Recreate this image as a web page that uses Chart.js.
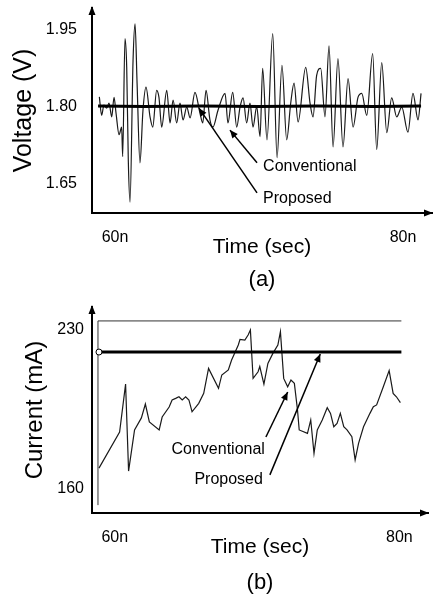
<!DOCTYPE html>
<html>
<head>
<meta charset="utf-8">
<script src="https://cdn.jsdelivr.net/npm/chart.js@4.4.1/dist/chart.umd.min.js"></script>
<style>
  html, body { margin: 0; padding: 0; background: #fff; }
  #wrap { position: relative; width: 433px; height: 596px; }
  canvas { position: absolute; left: 0; }
  #chartA { top: 0; }
  #chartB { top: 298px; }
</style>
</head>
<body>
<div id="wrap">
  <canvas id="chartA" width="433" height="298"></canvas>
  <canvas id="chartB" width="433" height="298"></canvas>
</div>
<script>
const FONT = '"Liberation Sans", Arial, Helvetica, sans-serif';

// time axis, ns
const timeTicks = [60, 80];
const timeTickLabels = ['60n', '80n'];

// (a) supply voltage
const voltTicks = [1.65, 1.80, 1.95];
const voltTickLabels = ['1.65', '1.80', '1.95'];
const convTimeA = [58.91, 59.07, 59.23, 59.42, 59.58, 59.77, 59.93, 60.07, 60.28, 60.46,
  60.53, 60.69, 60.81, 60.92, 61.04, 61.25, 61.39, 61.53, 61.73, 61.94,
  62.15, 62.43, 62.62, 62.89, 63.05, 63.24, 63.59, 63.82, 64.03, 64.28,
  64.51, 64.72, 64.98, 65.21, 65.55, 65.90, 66.09, 66.32, 66.59, 66.80,
  67.15, 67.64, 67.84, 68.17, 68.45, 68.68, 68.89, 69.14, 69.37, 69.58,
  69.84, 70.07, 70.25, 70.55, 70.95, 71.25, 71.59, 71.92, 72.20, 72.43,
  72.71, 73.24, 73.54, 73.75, 74.00, 74.28, 74.58, 74.86, 75.14, 75.48,
  75.83, 76.18, 76.53, 76.87, 77.13, 77.48, 77.89, 78.17, 78.52, 78.87,
  79.21, 79.56, 79.91, 80.34, 80.69, 81.04, 81.25];
const convVoltA = [1.819, 1.783, 1.803, 1.797, 1.807, 1.780, 1.818, 1.787, 1.745, 1.760,
  1.702, 1.933, 1.877, 1.696, 1.613, 1.890, 1.962, 1.846, 1.690, 1.793,
  1.838, 1.780, 1.760, 1.832, 1.818, 1.760, 1.832, 1.768, 1.813, 1.768,
  1.807, 1.774, 1.799, 1.778, 1.828, 1.787, 1.768, 1.832, 1.774, 1.760,
  1.793, 1.826, 1.768, 1.828, 1.760, 1.799, 1.817, 1.768, 1.807, 1.760,
  1.800, 1.741, 1.875, 1.735, 1.943, 1.700, 1.881, 1.735, 1.807, 1.846,
  1.770, 1.877, 1.807, 1.780, 1.861, 1.875, 1.780, 1.919, 1.721, 1.894,
  1.721, 1.855, 1.760, 1.818, 1.826, 1.783, 1.904, 1.716, 1.886, 1.749,
  1.817, 1.780, 1.799, 1.750, 1.826, 1.774, 1.826];
const propTimeA = [58.82, 62.0, 66.0, 70.0, 74.0, 78.0, 81.25];
const propVoltA = [1.801, 1.800, 1.801, 1.800, 1.801, 1.800, 1.801];

// (b) supply current
const currTicks = [160, 230];
const currTickLabels = ['160', '230'];
const convTimeB = [58.89, 60.34, 60.76, 60.97, 61.39, 61.87, 62.15, 62.43, 63.12, 63.33,
  63.82, 64.03, 64.28, 64.51, 64.74, 64.98, 65.21, 65.43, 65.90, 66.25,
  66.59, 67.29, 67.52, 67.98, 68.21, 68.68, 68.80, 69.14, 69.37, 69.53,
  69.72, 70.07, 70.19, 70.48, 70.76, 71.11, 71.46, 71.64, 71.87, 72.15,
  72.38, 72.62, 72.84, 72.96, 73.54, 73.77, 74.00, 74.23, 74.58, 74.93,
  75.16, 75.39, 75.62, 75.85, 76.09, 76.32, 76.66, 76.89, 77.13, 77.48,
  77.93, 78.17, 78.40, 78.87, 79.28, 79.56, 79.79, 80.07];
const convCurrB = [169.2, 185.1, 206.2, 167.9, 186.0, 191.3, 197.4, 189.5, 186.0, 191.7,
  196.1, 199.2, 199.9, 200.6, 199.2, 200.6, 199.2, 194.0, 197.7, 202.1,
  213.1, 204.3, 210.2, 212.4, 216.8, 223.4, 225.9, 225.6, 227.8, 230.0,
  208.7, 211.6, 213.9, 206.2, 215.3, 219.7, 223.4, 229.3, 208.7, 205.0,
  208.0, 206.5, 194.8, 186.0, 184.5, 190.4, 175.7, 186.0, 190.4, 195.8,
  193.3, 187.4, 188.9, 193.3, 187.4, 186.0, 183.0, 172.8, 180.1, 187.4,
  193.3, 196.2, 197.0, 205.0, 212.1, 202.1, 200.6, 198.0];
const propTimeB = [58.89, 80.14];
const propCurrB = [220.3, 220.3];
// scope frame left and top edge in (b)
const frameTimeB = [58.82, 58.82, 80.14];
const frameCurrB = [152.9, 234.0, 234.0];

function toPoints(xs, ys) {
  return xs.map((x, i) => ({ x: x, y: ys[i] }));
}

function arrowHead(ctx, x0, y0, x1, y1, len, half) {
  const a = Math.atan2(y1 - y0, x1 - x0);
  ctx.beginPath();
  ctx.moveTo(x1, y1);
  ctx.lineTo(x1 - len * Math.cos(a) + half * Math.sin(a), y1 - len * Math.sin(a) - half * Math.cos(a));
  ctx.lineTo(x1 - len * Math.cos(a) - half * Math.sin(a), y1 - len * Math.sin(a) + half * Math.cos(a));
  ctx.closePath();
  ctx.fill();
}

// no extra room for half tick labels, the chart area is set by layout.padding
function noLabelPadding(s) {
  s.paddingTop = 0;
  s.paddingBottom = 0;
  s.paddingLeft = 0;
  s.paddingRight = 0;
}

// axis arrowheads + the "Conventional"/"Proposed" callouts
const calloutPlugin = {
  id: 'callouts',
  afterDraw(chart, args, opts) {
    const { ctx, chartArea: ca, scales: { x, y } } = chart;
    ctx.save();
    ctx.fillStyle = '#000';
    ctx.strokeStyle = '#000';
    arrowHead(ctx, ca.left, ca.top + 10, ca.left, ca.top - 2, 9, 3.5);
    arrowHead(ctx, ca.right - 10, ca.bottom, ca.right + 1, ca.bottom, 9, 3.5);

    ctx.font = '16px ' + FONT;
    ctx.textBaseline = 'middle';
    (opts.items || []).forEach(n => {
      ctx.textAlign = n.align;
      ctx.fillText(n.text, x.getPixelForValue(n.at[0]), y.getPixelForValue(n.at[1]));
      const x0 = x.getPixelForValue(n.from[0]), y0 = y.getPixelForValue(n.from[1]);
      const x1 = x.getPixelForValue(n.to[0]), y1 = y.getPixelForValue(n.to[1]);
      ctx.lineWidth = 1.5;
      ctx.beginPath();
      ctx.moveTo(x0, y0);
      ctx.lineTo(x1, y1);
      ctx.stroke();
      arrowHead(ctx, x0, y0, x1, y1, 8, 3.5);
    });
    ctx.restore();
  }
};

function timeAxis(height, titlePad) {
  return {
    type: 'linear',
    min: 58.40,
    max: 82.01,
    afterBuildTicks: s => { s.ticks = timeTicks.map(v => ({ value: v })); },
    afterFit: s => { s.height = height; noLabelPadding(s); },
    grid: { display: false, drawTicks: false },
    border: { display: true, color: '#000', width: 2 },
    ticks: {
      padding: 15,
      maxRotation: 0,
      autoSkip: false,
      color: '#000',
      font: { family: FONT, size: 16 },
      callback: v => timeTickLabels[timeTicks.indexOf(v)]
    },
    title: {
      display: true,
      text: 'Time (sec)',
      color: '#000',
      font: { family: FONT, size: 21 },
      padding: { top: 0, bottom: titlePad }
    }
  };
}

function valueAxis(min, max, ticks, labels, tickPad, title, titleSize, titlePad) {
  return {
    type: 'linear',
    min: min,
    max: max,
    afterBuildTicks: s => { s.ticks = ticks.map(v => ({ value: v })); },
    afterFit: s => { s.width = 92; noLabelPadding(s); },
    grid: { display: false, drawTicks: false },
    border: { display: true, color: '#000', width: 2 },
    ticks: {
      padding: tickPad,
      color: '#000',
      font: { family: FONT, size: 16 },
      callback: v => labels[ticks.indexOf(v)]
    },
    title: {
      display: true,
      text: title,
      color: '#000',
      font: { family: FONT, size: titleSize },
      padding: { top: titlePad, bottom: 0 }
    }
  };
}

function panelTitle(text, padBottom) {
  return {
    display: true,
    text: text,
    position: 'bottom',
    fullSize: false,
    color: '#000',
    font: { family: FONT, size: 22, weight: 'normal' },
    padding: { top: 0, bottom: padBottom }
  };
}

new Chart(document.getElementById('chartA'), {
  type: 'line',
  data: {
    datasets: [{
      label: 'Proposed',
      data: toPoints(propTimeA, propVoltA),
      borderColor: '#000',
      borderWidth: 3,
      pointRadius: 0,
      tension: 0
    }, {
      label: 'Conventional',
      data: toPoints(convTimeA, convVoltA),
      borderColor: '#1a1a1a',
      borderWidth: 1.2,
      pointRadius: 0,
      cubicInterpolationMode: 'monotone'
    }]
  },
  options: {
    responsive: false,
    animation: false,
    layout: { padding: { top: 8, right: 1, bottom: 0, left: 0 } },
    scales: {
      x: timeAxis(53.6, 7),
      y: valueAxis(1.5917, 1.9931, voltTicks, voltTickLabels, 15, 'Voltage (V)', 25, 9)
    },
    plugins: {
      legend: { display: false },
      tooltip: { enabled: false },
      title: panelTitle('(a)', 5),
      callouts: {
        items: [
          { text: 'Conventional', at: [70.28, 1.682], align: 'left', from: [69.86, 1.690], to: [67.98, 1.754] },
          { text: 'Proposed', at: [70.28, 1.619], align: 'left', from: [69.86, 1.631], to: [65.83, 1.797] }
        ]
      }
    }
  },
  plugins: [calloutPlugin]
});

new Chart(document.getElementById('chartB'), {
  type: 'line',
  data: {
    datasets: [{
      label: 'Proposed',
      data: toPoints(propTimeB, propCurrB),
      borderColor: '#000',
      borderWidth: 3,
      pointRadius: c => c.dataIndex === 0 ? 3 : 0,
      pointBackgroundColor: '#fff',
      pointBorderColor: '#000',
      pointBorderWidth: 1,
      tension: 0
    }, {
      label: 'Conventional',
      data: toPoints(convTimeB, convCurrB),
      borderColor: '#1a1a1a',
      borderWidth: 1.2,
      pointRadius: 0,
      tension: 0
    }, {
      label: 'frame',
      data: toPoints(frameTimeB, frameCurrB),
      borderColor: '#333',
      borderWidth: 1,
      pointRadius: 0,
      tension: 0
    }]
  },
  options: {
    responsive: false,
    animation: false,
    layout: { padding: { top: 9, right: 1, bottom: 0, left: 0 } },
    scales: {
      x: timeAxis(56.6, 10),
      y: valueAxis(149.43, 240.13, currTicks, currTickLabels, 8, 'Current (mA)', 24, 20.6)
    },
    plugins: {
      legend: { display: false },
      tooltip: { enabled: false },
      title: panelTitle('(b)', 0),
      callouts: {
        items: [
          { text: 'Conventional', at: [70.55, 177.2], align: 'right', from: [70.62, 182.9], to: [72.15, 202.7] },
          { text: 'Proposed', at: [70.41, 164.0], align: 'right', from: [70.9, 166.2], to: [74.44, 219.4] }
        ]
      }
    }
  },
  plugins: [calloutPlugin]
});
</script>
</body>
</html>
